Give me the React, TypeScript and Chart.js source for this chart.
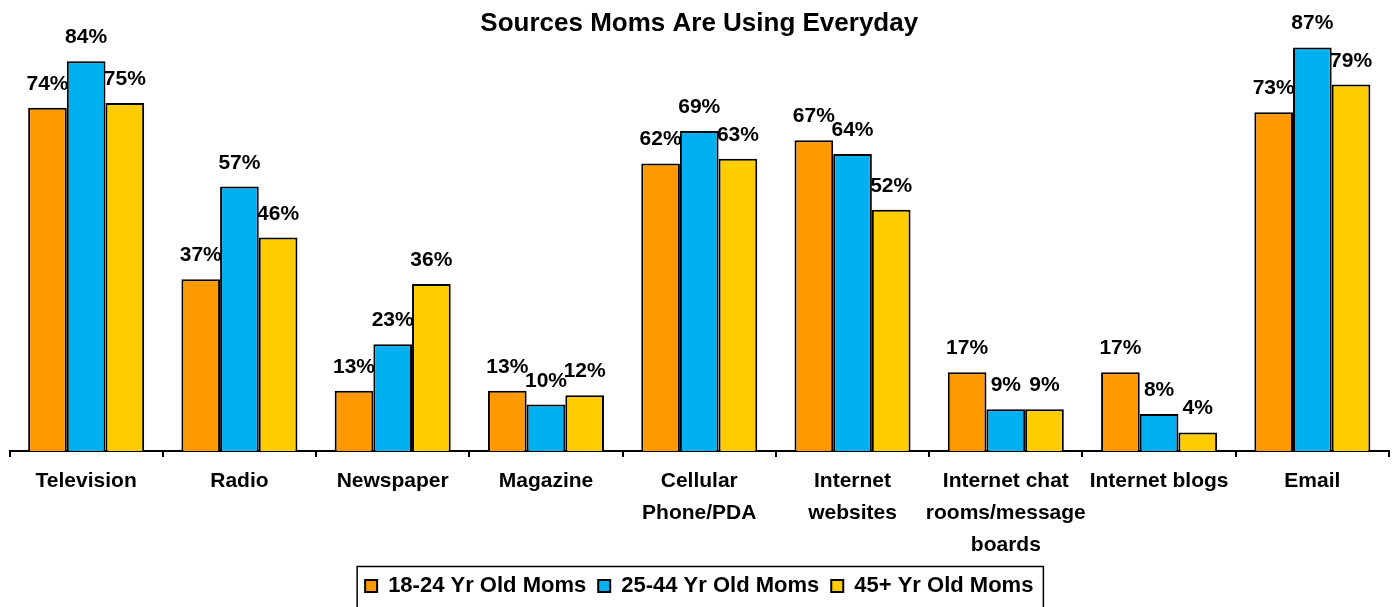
import React, { useEffect, useRef } from "react";
import { Chart, registerables } from "chart.js";

Chart.register(...registerables);

const chartTitle = "Sources Moms Are Using Everyday";
const categories: (string | string[])[] = [
  "Television",
  "Radio",
  "Newspaper",
  "Magazine",
  ["Cellular", "Phone/PDA"],
  ["Internet", "websites"],
  ["Internet chat", "rooms/message", "boards"],
  "Internet blogs",
  "Email",
];
const seriesNames = ["18-24 Yr Old Moms", "25-44 Yr Old Moms", "45+ Yr Old Moms"];
const moms18to24 = [74, 37, 13, 13, 62, 67, 17, 17, 73];
const moms25to44 = [84, 57, 23, 10, 69, 64, 9, 8, 87];
const moms45plus = [75, 46, 36, 12, 63, 52, 9, 4, 79];
const seriesColors = ["#FF9900", "#00B0F0", "#FFCC00"];

const FONT = "'Liberation Sans', Arial, Helvetica, sans-serif";

const valueLabels = {
  id: "valueLabels",
  afterDatasetsDraw(chart: any) {
    const ctx = chart.ctx;
    ctx.save();
    ctx.font = `bold 21px ${FONT}`;
    ctx.fillStyle = "#000";
    ctx.textAlign = "center";
    ctx.textBaseline = "alphabetic";
    chart.data.datasets.forEach((ds: any, i: number) => {
      const meta = chart.getDatasetMeta(i);
      meta.data.forEach((el: any, j: number) => {
        ctx.fillText(`${ds.data[j]}%`, el.x, el.y - 18);
      });
    });
    ctx.restore();
  },
};

const legendBorder = {
  id: "legendBorder",
  afterDraw(chart: any) {
    const lg = chart.legend;
    const boxes = lg && lg.legendHitBoxes;
    if (!boxes || !boxes.length) return;
    const first = boxes[0];
    const last = boxes[boxes.length - 1];
    const left = first.left - 8;
    const right = last.left + last.width + 10;
    const top = lg.top + 3.5;
    const ctx = chart.ctx;
    ctx.save();
    ctx.strokeStyle = "#000";
    ctx.lineWidth = 1.5;
    ctx.strokeRect(left, top, right - left, chart.height - top + 10);
    ctx.restore();
  },
};

export default function App() {
  const ref = useRef<HTMLCanvasElement | null>(null);

  useEffect(() => {
    document.body.style.margin = "0";
    const canvas = ref.current;
    if (!canvas) return;
    const seriesValues = [moms18to24, moms25to44, moms45plus];
    const chart = new Chart(canvas, {
      type: "bar",
      data: {
        labels: categories as any,
        datasets: seriesNames.map((name, i) => ({
          label: name,
          data: seriesValues[i],
          backgroundColor: seriesColors[i],
          borderColor: "#000",
          borderWidth: 2,
          categoryPercentage: 0.757,
          barPercentage: 1.0,
        })),
      },
      options: {
        responsive: false,
        animation: false,
        devicePixelRatio: 1,
        layout: { padding: { left: 9.5, right: 5, top: 0, bottom: 0 } },
        plugins: {
          title: {
            display: true,
            text: chartTitle,
            color: "#000",
            font: { family: FONT, size: 26, weight: "bold", lineHeight: 1.0 },
            padding: { top: 10.5, bottom: -3 },
          },
          legend: {
            display: true,
            position: "bottom",
            labels: {
              color: "#000",
              font: { family: FONT, size: 22, weight: "bold" },
              boxWidth: 12,
              boxHeight: 12,
              padding: 12,
            },
          },
          tooltip: { enabled: false },
        },
        scales: {
          x: {
            offset: true,
            grid: {
              display: true,
              offset: true,
              drawOnChartArea: false,
              drawTicks: true,
              tickLength: 6,
              color: "#000",
              lineWidth: 2,
            },
            border: { display: true, color: "#000", width: 2 },
            ticks: {
              color: "#000",
              font: { family: FONT, size: 21, weight: "bold", lineHeight: 1.52 },
              padding: 8,
              maxRotation: 0,
              minRotation: 0,
              autoSkip: false,
            },
            afterFit(scale: any) {
              scale.height = 112;
            },
          },
          y: {
            display: false,
            min: 0,
            max: 90,
          },
        },
      },
      plugins: [valueLabels, legendBorder],
    });
    return () => chart.destroy();
  }, []);

  return (
    <div style={{ width: 1394, height: 607 }}>
      <canvas ref={ref} width={1394} height={607} style={{ display: "block" }} />
    </div>
  );
}
